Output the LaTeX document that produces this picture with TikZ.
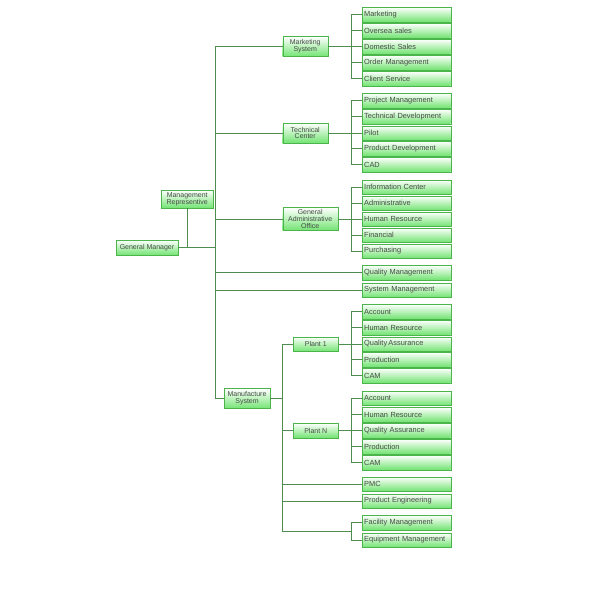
\documentclass[tikz,border=0pt]{standalone}
\usepackage{fontspec}
\setmainfont{Liberation Sans}
\usetikzlibrary{positioning}
\definecolor{boxline}{RGB}{75,180,75}
\definecolor{boxfill}{RGB}{115,228,115}
\definecolor{linkline}{RGB}{80,140,80}
\definecolor{labeltext}{RGB}{70,75,70}
\begin{document}
\begin{tikzpicture}[x=1pt,y=-1pt]

\tikzset{unit/.style = {shape=rectangle,draw=boxline,top color=white,bottom color=boxfill,
  text=labeltext,inner sep=1pt,align=center,font=\fontsize{7}{6.8}\selectfont}}
\tikzset{leaf/.style = {unit,anchor=west,minimum width=88.5pt,minimum height=14.5pt,
  inner xsep=2pt,text width=84.5pt,align=left,font=\fontsize{7.4}{7.4}\selectfont}}
\tikzset{link/.style = {draw=linkline,line width=0.8pt}}
\useasboundingbox (0,0) rectangle (600,600);
% heads
\node[unit, minimum width=62pt, minimum height=15pt] (gm) at (147,247.5) {General Manager};
\node[unit, minimum width=52pt, minimum height=18pt] (mr) at (187.2,199) {Management\\Representive};
% systems
\node[unit, minimum width=45pt, minimum height=20pt] (mkt) at (305.2,46.5) {Marketing\\System};
\node[unit, minimum width=45pt, minimum height=20pt] (tc) at (305.2,133) {Technical\\Center};
\node[unit, minimum width=55pt, minimum height=23pt] (gao) at (310.2,219) {General\\Administrative\\Office};
\node[unit, minimum width=46pt, minimum height=20pt] (mfg) at (247,398.5) {Manufacture\\System};
\node[unit, minimum width=45pt, minimum height=14.5pt] (p1) at (315.8,344) {Plant 1};
\node[unit, minimum width=45pt, minimum height=14.5pt] (pn) at (315.8,430.5) {Plant N};
% marketing
\node[leaf] (m1) at (362,14.5) {Marketing};
\node[leaf] (m2) at (362,30.5) {Oversea sales};
\node[leaf] (m3) at (362,46.5) {Domestic Sales};
\node[leaf] (m4) at (362,62.5) {Order Management};
\node[leaf] (m5) at (362,78.5) {Client Service};
% technical
\node[leaf] (t1) at (362,100.5) {Project Management};
\node[leaf] (t2) at (362,116.5) {Technical Development};
\node[leaf] (t3) at (362,133) {Pilot};
\node[leaf] (t4) at (362,148.5) {Product Development};
\node[leaf] (t5) at (362,164.5) {CAD};
% administrative
\node[leaf] (g1) at (362,187) {Information Center};
\node[leaf] (g2) at (362,203) {Administrative};
\node[leaf] (g3) at (362,219) {Human Resource};
\node[leaf] (g4) at (362,235) {Financial};
\node[leaf] (g5) at (362,251) {Purchasing};
\node[leaf] (qm) at (362,272.5) {Quality Management};
\node[leaf] (sm) at (362,290) {System Management};
% plant 1
\node[leaf] (a1) at (362,311.5) {Account};
\node[leaf] (a2) at (362,327.5) {Human Resource};
\node[leaf] (a3) at (362,344) {Quality\,Assurance};
\node[leaf] (a4) at (362,359.5) {Production};
\node[leaf] (a5) at (362,375.5) {CAM};
% plant N
\node[leaf] (b1) at (362,398) {Account};
\node[leaf] (b2) at (362,414.5) {Human Resource};
\node[leaf] (b3) at (362,430.5) {Quality Assurance};
\node[leaf] (b4) at (362,446.5) {Production};
\node[leaf] (b5) at (362,462.5) {CAM};
\node[leaf] (pmc) at (362,484) {PMC};
\node[leaf] (pe) at (362,501) {Product  Engineering};
\node[leaf] (f1) at (362,522.5) {Facility  Management};
\node[leaf] (f2) at (362,540) {Equipment Management};
%edges
\coordinate (trunk) at (215.5,0);
\coordinate (mtrunk) at (282.3,0);
\coordinate (fe) at (351,531.5);
\draw[link] (mkt.west) -- (mkt.west -| trunk) |- (mfg.west);
\draw[link] (tc.west) -- (tc.west -| trunk);
\draw[link] (gao.west) -- (gao.west -| trunk);
\draw[link] (qm.west) -- (qm.west -| trunk);
\draw[link] (sm.west) -- (sm.west -| trunk);
\draw[link] (gm.east) -- (gm.east -| trunk);
\draw[link] (mr.south) -- (mr.south |- gm.east);
\draw[link] (mkt) -- (m3);
\draw[link] (m1.west) -- ++(-11,0) |- (m5.west) (m2.west) -- ++(-11,0) (m4.west) -- ++(-11,0);
\draw[link] (tc) -- (t3);
\draw[link] (t1.west) -- ++(-11,0) |- (t5.west) (t2.west) -- ++(-11,0) (t4.west) -- ++(-11,0);
\draw[link] (gao) -- (g3);
\draw[link] (g1.west) -- ++(-11,0) |- (g5.west) (g2.west) -- ++(-11,0) (g4.west) -- ++(-11,0);
\draw[link] (mfg.east) -- (mfg.east -| mtrunk);
\draw[link] (p1.west) -- (p1.west -| mtrunk) |- (fe);
\draw[link] (pn.west) -- (pn.west -| mtrunk);
\draw[link] (pmc.west) -- (pmc.west -| mtrunk);
\draw[link] (pe.west) -- (pe.west -| mtrunk);
\draw[link] (p1) -- (a3);
\draw[link] (a1.west) -- ++(-11,0) |- (a5.west) (a2.west) -- ++(-11,0) (a4.west) -- ++(-11,0);
\draw[link] (pn) -- (b3);
\draw[link] (b1.west) -- ++(-11,0) |- (b5.west) (b2.west) -- ++(-11,0) (b4.west) -- ++(-11,0);
\draw[link] (f1.west) -- ++(-11,0) |- (f2.west);
\end{tikzpicture}
\end{document}
